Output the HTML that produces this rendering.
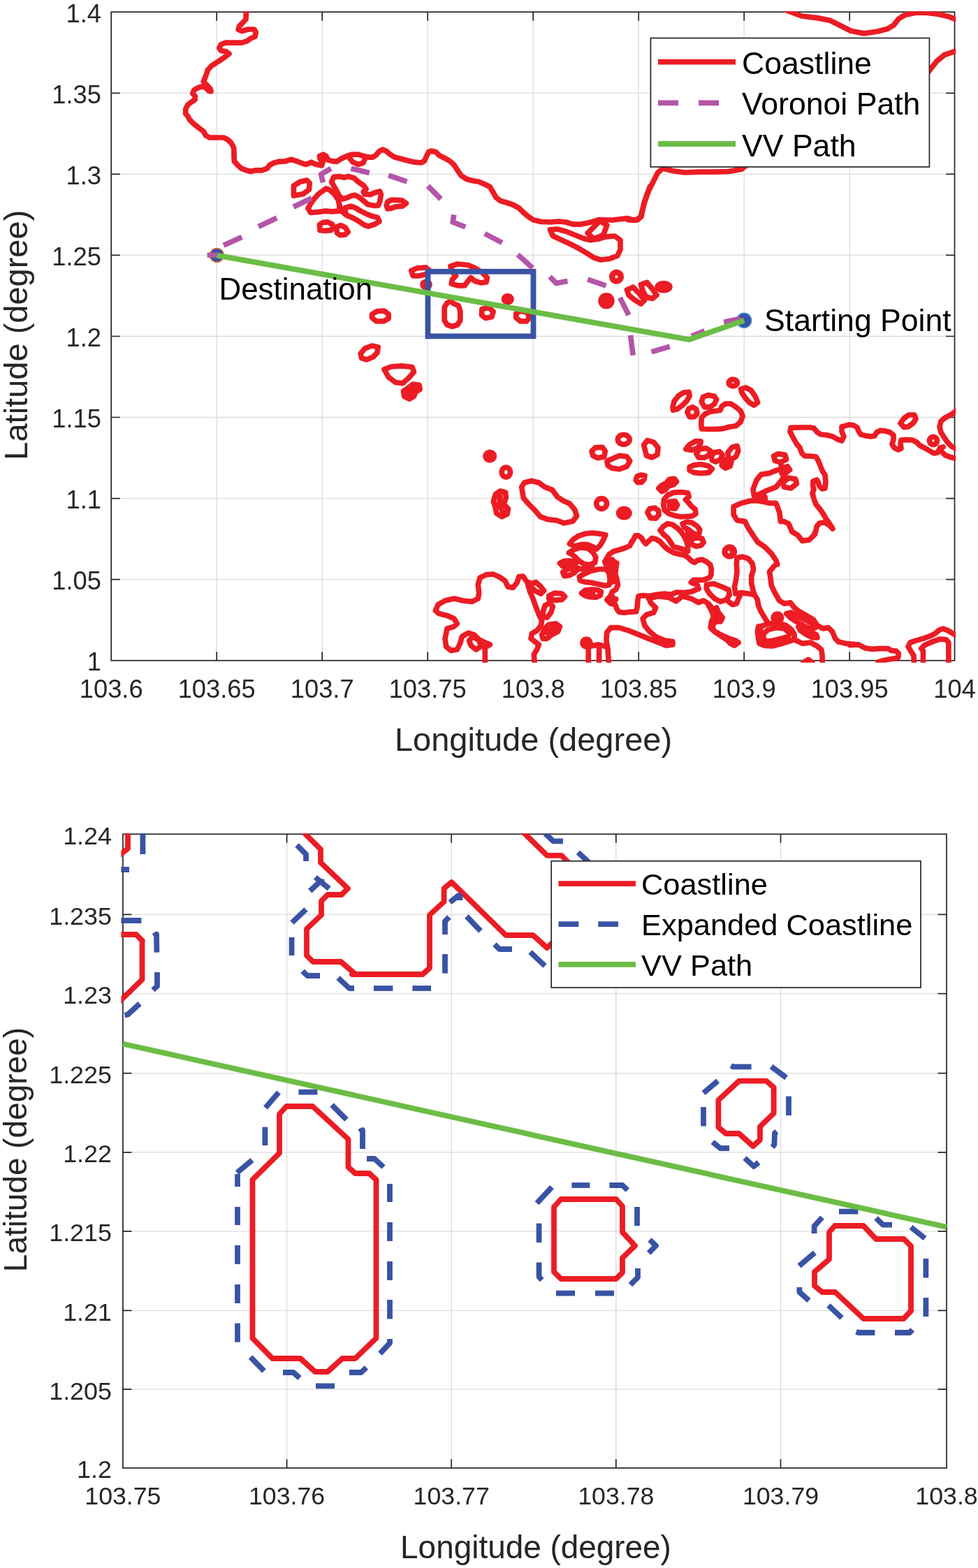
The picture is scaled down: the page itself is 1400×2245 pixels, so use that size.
<!DOCTYPE html><html><head><meta charset="utf-8"><title>Path planning figure</title>
<style>html,body{margin:0;padding:0;background:#fff}svg{display:block}text{font-family:"Liberation Sans",sans-serif;fill:#262626}</style></head><body>
<svg width="1400" height="2245" viewBox="0 0 1400 2245">
<rect width="1400" height="2245" fill="#fff"/>
<path d="M159.2 17.2V945.8M310.2 17.2V945.8M461.2 17.2V945.8M612.2 17.2V945.8M763.2 17.2V945.8M914.2 17.2V945.8M1065.2 17.2V945.8M1216.2 17.2V945.8M1366.6 17.2V945.8M159.2 945.8H1366.6M159.2 829.7H1366.6M159.2 713.6H1366.6M159.2 597.5H1366.6M159.2 481.5H1366.6M159.2 365.4H1366.6M159.2 249.3H1366.6M159.2 133.3H1366.6M159.2 17.2H1366.6" stroke="#dcdcdc" stroke-width="1.3" fill="none"/>
<clipPath id="c1"><rect x="156.8" y="16.2" width="1211.3" height="932.5"/></clipPath>
<path d="M310.2 945.8v-12.5M310.2 17.2v12.5M461.2 945.8v-12.5M461.2 17.2v12.5M612.2 945.8v-12.5M612.2 17.2v12.5M763.2 945.8v-12.5M763.2 17.2v12.5M914.2 945.8v-12.5M914.2 17.2v12.5M1065.2 945.8v-12.5M1065.2 17.2v12.5M1216.2 945.8v-12.5M1216.2 17.2v12.5M159.2 829.7h12.5M1366.6 829.7h-12.5M159.2 713.6h12.5M1366.6 713.6h-12.5M159.2 597.5h12.5M1366.6 597.5h-12.5M159.2 481.5h12.5M1366.6 481.5h-12.5M159.2 365.4h12.5M1366.6 365.4h-12.5M159.2 249.3h12.5M1366.6 249.3h-12.5M159.2 133.3h12.5M1366.6 133.3h-12.5" stroke="#262626" stroke-width="1.7" fill="none"/>
<rect x="159.2" y="17.2" width="1207.3" height="928.5" fill="none" stroke="#262626" stroke-width="1.7"/>
<g clip-path="url(#c1)" fill="none" stroke-linejoin="round" stroke-linecap="round">
<g stroke="#ec1c24" stroke-width="7.7">
<polyline points="352.5,13.8 352.0,27.5 347.5,32.5 342.5,37.5 341.2,42.5 346.2,44.5 355.0,42.0 363.8,42.0 366.2,46.2 365.0,52.5 358.8,55.0 353.8,58.8 346.2,61.2 335.0,61.2 322.5,61.2 316.2,63.8 313.8,68.8 316.2,72.5 323.8,73.8 328.0,77.0 322.5,81.2 312.5,88.0 302.5,94.5 297.5,100.0 295.5,106.2 293.0,112.5 291.2,117.0 295.5,121.2 301.2,127.5 302.0,130.8 298.8,130.0 293.8,125.0 290.0,123.8 283.8,125.5 278.0,128.8 275.8,133.8 279.2,137.5 279.2,142.5 273.8,146.2 268.8,150.0 265.8,156.2 265.5,162.5 268.8,166.2 271.2,171.2 276.2,176.2 283.8,182.5 291.2,188.0 294.5,193.8 300.0,197.0 310.0,197.0 320.0,197.0 326.2,200.0 331.2,205.0 334.5,211.2 335.0,217.5 335.0,225.0 335.5,231.2 340.0,236.2 345.5,241.2 352.5,243.8 358.8,245.5 366.2,243.8 375.0,243.8 382.5,241.2 386.2,236.2 392.5,233.0 400.0,231.2"/>
<polyline points="400.0,231.3 407.9,231.0 416.5,228.3 424.4,230.6 432.2,233.8 438.5,235.4 445.6,232.2 452.6,235.4 460.5,236.9 462.1,232.2 458.1,227.5 457.4,223.6 462.9,221.2 466.8,223.6 469.9,229.1 475.4,230.6 481.7,231.4 488.0,227.5 495.9,223.6 503.7,221.2 513.1,221.2 521.0,223.6 527.3,225.1 533.6,225.1 538.3,222.0 543.0,216.5 547.7,214.1 553.2,216.5 558.7,221.2 565.0,225.1 574.4,227.5 583.9,229.9 593.3,232.2 602.7,233.0 607.4,230.6 610.6,223.6 613.7,217.3 620.0,216.5"/>
<polyline points="500.6,226.7 505.3,232.2 513.1,235.4 519.7,233.3 521.8,229.1"/>
<polygon points="465.5,225.9 465.2,227.4 464.2,228.6 462.8,229.3 461.3,229.3 459.9,228.6 459.0,227.4 458.6,225.9 459.0,224.4 459.9,223.2 461.3,222.6 462.8,222.6 464.2,223.2 465.2,224.4"/>
<polygon points="463.6,225.9 463.5,226.6 463.0,227.1 462.4,227.4 461.7,227.4 461.1,227.1 460.7,226.6 460.5,225.9 460.7,225.3 461.1,224.7 461.7,224.4 462.4,224.4 463.0,224.7 463.5,225.3"/>
<polyline points="617.5,216.2 623.8,217.5 628.8,222.5 636.2,226.2 643.8,230.5 650.0,236.2 655.0,243.8 660.0,251.2 667.5,256.2 676.2,258.8 685.0,260.0 693.8,263.8 701.2,267.5 705.0,273.8 710.0,282.5 716.2,287.5 725.0,290.0 733.8,293.0 742.5,297.5 748.8,303.8 756.2,310.0 763.8,315.0 775.0,317.5 787.5,318.0 800.0,317.0 810.0,318.0 820.0,321.2 830.0,321.2 840.0,319.5 850.0,317.0 857.5,314.5 867.5,315.0 877.5,315.0 887.5,313.8 897.5,312.5 905.0,314.5 912.5,315.0 918.0,310.0 920.0,300.0 922.0,290.0 926.2,280.0 930.0,267.5"/>
<polygon points="787.5,328.8 797.5,328.0 810.0,331.2 822.5,336.2 835.0,341.2 845.0,343.8 855.0,342.5 867.5,338.8 880.0,338.0 888.0,343.8 888.0,357.5 883.8,366.2 872.5,370.5 860.0,372.0 850.0,368.8 840.0,362.5 827.5,355.0 815.0,348.8 802.5,343.0 791.2,337.5"/>
<polygon points="858.8,316.2 841.2,333.8 850.0,342.0 863.8,336.2 868.8,322.5"/>
<polygon points="888.5,396.2 887.9,398.9 886.2,400.9 883.8,402.1 881.2,402.1 878.8,400.9 877.1,398.9 876.5,396.2 877.1,393.6 878.8,391.6 881.2,390.4 883.8,390.4 886.2,391.6 887.9,393.6"/>
<polyline points="898.6,314.6 909.7,315.3 917.1,310.9 920.9,296.0 926.4,277.4 933.9,262.6 941.3,247.7 948.7,241.0 963.6,244.7 980.3,247.0 1002.6,246.2 1024.9,246.2 1043.4,245.5 1062.0,242.1 1073.1,232.9"/>
<polyline points="1327.6,104.7 1340.6,88.0 1351.7,78.7 1370.3,72.4"/>
<polyline points="1125.1,14.5 1147.4,23.0 1169.7,25.6 1188.3,29.3 1203.1,36.7 1218.0,44.2 1236.6,47.9 1255.1,45.3 1270.0,41.6 1279.3,36.0 1286.7,26.7 1296.0,21.1 1310.9,18.2 1325.7,18.2 1344.3,20.4 1359.1,24.1 1372.1,29.3"/>
<polygon points="420.4,266.0 429.1,260.5 439.3,258.1 443.2,262.1 442.4,271.5 433.8,277.8 420.4,280.1"/>
<polygon points="466.8,269.9 455.8,277.8 447.1,288.0 440.9,298.2 444.8,304.5 454.2,303.7 466.0,302.1 475.4,302.9 485.6,302.1 486.1,294.3 484.1,285.6 477.8,277.0 472.3,272.3"/>
<polygon points="477.8,253.4 485.6,252.6 492.7,254.2 499.0,252.6 506.9,255.0 513.1,260.5 521.0,266.0 524.1,270.7 520.2,274.6 521.8,277.8 530.4,278.6 537.5,275.4 543.8,273.9 545.4,278.6 543.8,288.0 541.4,294.3 534.4,294.3 526.5,292.7 521.0,288.0 515.5,283.3 508.4,279.4 503.7,280.1 496.6,283.3 490.4,284.9 485.6,280.1 481.7,273.1 477.8,266.0 474.6,260.5"/>
<polygon points="494.3,297.4 502.1,295.1 508.4,297.4 516.3,302.1 525.7,306.9 534.4,310.0 540.6,311.6 543.0,317.1 536.7,321.0 527.3,324.1 521.0,321.8 513.1,316.3 504.5,311.6 496.6,308.4 494.3,303.7"/>
<polyline points="486.1,294.3 488.8,302.1 494.3,306.9"/>
<polygon points="554.8,288.8 560.3,286.4 568.1,286.4 576.0,287.2 581.5,291.1 576.0,295.1 566.6,295.9 560.3,298.2 554.8,299.0 553.2,294.3"/>
<polygon points="457.4,321.8 462.1,318.6 469.1,317.9 475.4,321.0 477.0,325.7 473.9,329.6 466.0,330.4 458.1,329.6"/>
<polygon points="481.7,324.9 488.0,322.6 494.3,325.7 498.2,332.0 494.3,335.9 487.2,336.7 482.5,333.6"/>
<polygon points="588.8,387.5 597.5,383.8 610.0,383.0 615.0,387.5 610.0,392.5 600.0,395.0 591.2,395.0"/>
<polygon points="615.0,407.5 614.5,409.3 613.1,410.8 611.1,411.6 608.9,411.6 606.9,410.8 605.5,409.3 605.0,407.5 605.5,405.7 606.9,404.2 608.9,403.4 611.1,403.4 613.1,404.2 614.5,405.7"/>
<polygon points="612.2,407.5 612.0,408.3 611.4,409.0 610.5,409.4 609.5,409.4 608.6,409.0 608.0,408.3 607.8,407.5 608.0,406.7 608.6,406.0 609.5,405.6 610.5,405.6 611.4,406.0 612.0,406.7"/>
<polygon points="645.0,381.2 655.0,378.0 670.0,379.5 680.0,383.8 690.0,390.0 697.5,397.5 696.2,403.8 688.8,405.0 680.0,402.5 673.8,397.5 668.8,403.8 665.0,408.8 655.0,408.8 646.2,406.2 647.5,400.0 652.5,395.0 647.5,388.8"/>
<polygon points="645.0,431.2 650.0,435.0 656.2,437.5 658.8,445.0 658.8,458.8 655.0,465.0 647.5,467.5 640.0,465.0 636.2,458.8 636.2,440.0 640.0,433.8"/>
<polygon points="690.0,442.5 700.0,440.5 706.2,446.2 703.8,453.8 695.0,455.5 689.5,451.2"/>
<polygon points="732.0,428.2 731.5,430.2 730.0,431.8 727.9,432.6 725.6,432.6 723.5,431.8 722.0,430.2 721.5,428.2 722.0,426.3 723.5,424.7 725.6,423.9 727.9,423.9 730.0,424.7 731.5,426.3"/>
<polygon points="729.1,428.2 728.9,429.1 728.2,429.8 727.3,430.2 726.2,430.2 725.3,429.8 724.6,429.1 724.4,428.2 724.6,427.4 725.3,426.7 726.2,426.3 727.3,426.3 728.2,426.7 728.9,427.4"/>
<polygon points="738.8,448.8 745.0,445.0 755.0,447.5 757.5,455.0 753.8,460.0 745.0,460.0 738.8,455.0"/>
<polygon points="532.5,450.0 540.0,445.5 550.0,445.0 556.2,450.0 556.2,456.2 548.8,460.0 538.8,460.0 532.5,455.0"/>
<polygon points="516.2,506.2 522.5,498.8 532.5,495.0 541.2,497.0 540.0,505.0 533.8,511.2 525.0,515.0 517.5,512.5"/>
<polygon points="550.0,528.8 560.0,525.0 575.0,523.8 590.0,525.5 592.5,532.5 585.0,541.2 576.2,548.8 566.2,547.5 556.2,540.0"/>
<polygon points="585.0,555.0 591.2,550.0 600.0,551.2 601.2,557.5 595.0,561.2 592.5,567.5 586.2,571.2 578.8,567.5 577.5,560.0"/>
<polyline points="585.0,560.0 593.8,556.2"/>
<polyline points="583.8,563.8 590.0,558.8 596.2,555.0"/>
<polyline points="587.5,566.2 590.0,562.5"/>
<polygon points="889.2,396.2 888.6,399.2 886.7,401.5 884.0,402.8 881.0,402.8 878.3,401.5 876.4,399.2 875.8,396.2 876.4,393.3 878.3,391.0 881.0,389.7 884.0,389.7 886.7,391.0 888.6,393.3"/>
<polygon points="876.0,430.8 875.2,434.2 873.0,437.0 869.8,438.5 866.2,438.5 863.0,437.0 860.8,434.2 860.0,430.8 860.8,427.3 863.0,424.5 866.2,423.0 869.8,423.0 873.0,424.5 875.2,427.3"/>
<polygon points="871.6,430.8 871.2,432.3 870.2,433.6 868.8,434.3 867.2,434.3 865.8,433.6 864.8,432.3 864.4,430.8 864.8,429.2 865.8,427.9 867.2,427.2 868.8,427.2 870.2,427.9 871.2,429.2"/>
<polygon points="897.5,415.0 906.2,411.2 915.0,420.0 922.5,430.0 917.5,435.0 907.5,428.8 900.0,422.5"/>
<polygon points="917.5,407.5 926.2,404.5 933.8,413.8 940.0,422.5 933.8,427.5 925.0,425.0 920.0,416.2"/>
<polygon points="959.0,410.8 958.1,412.9 955.6,414.7 952.0,415.6 948.0,415.6 944.4,414.7 941.9,412.9 941.0,410.8 941.9,408.6 944.4,406.8 948.0,405.9 952.0,405.9 955.6,406.8 958.1,408.6"/>
<polygon points="954.0,410.8 953.6,411.7 952.5,412.5 950.9,412.9 949.1,412.9 947.5,412.5 946.4,411.7 946.0,410.8 946.4,409.8 947.5,409.0 949.1,408.6 950.9,408.6 952.5,409.0 953.6,409.8"/>
<polygon points="707.4,653.2 706.8,655.7 705.0,657.6 702.6,658.7 699.8,658.7 697.4,657.6 695.6,655.7 695.0,653.2 695.6,650.7 697.4,648.8 699.8,647.7 702.6,647.7 705.0,648.8 706.8,650.7"/>
<polygon points="704.0,653.2 703.7,654.3 702.9,655.2 701.8,655.7 700.6,655.7 699.5,655.2 698.7,654.3 698.4,653.2 698.7,652.1 699.5,651.2 700.6,650.7 701.8,650.7 702.9,651.2 703.7,652.1"/>
<polygon points="730.5,676.1 729.9,679.1 728.2,681.5 725.7,682.9 723.0,682.9 720.5,681.5 718.8,679.1 718.2,676.1 718.8,673.1 720.5,670.7 723.0,669.3 725.7,669.3 728.2,670.7 729.9,673.1"/>
<polygon points="706.3,718.0 709.4,707.7 715.9,703.1 723.6,705.1 724.3,712.9 721.0,721.9 727.4,728.3 726.1,736.0 718.4,739.9 710.7,734.7 708.9,725.7"/>
<polyline points="715.9,710.3 714.6,723.1 719.7,732.1"/>
<polygon points="746.7,697.4 750.6,691.0 760.9,688.4 771.1,691.0 780.1,697.4 790.4,701.3 798.1,711.6 807.1,717.5 814.9,720.6 822.6,729.6 825.7,738.6 820.0,746.3 807.1,748.9 796.9,745.0 784.0,743.7 773.7,739.9 766.0,730.9 757.0,721.9 749.3,712.9"/>
<polygon points="847.0,646.0 852.1,640.9 862.4,640.3 866.3,646.0 865.0,653.7 856.0,655.8 848.8,652.4"/>
<polygon points="901.3,629.3 900.4,632.3 898.1,634.7 894.7,636.1 890.9,636.1 887.5,634.7 885.1,632.3 884.3,629.3 885.1,626.3 887.5,623.9 890.9,622.5 894.7,622.5 898.1,623.9 900.4,626.3"/>
<polygon points="868.9,660.1 877.9,656.3 886.9,652.4 897.1,653.7 901.8,660.1 897.1,667.9 886.9,671.7 876.6,670.4 870.1,666.6"/>
<polygon points="921.6,637.0 926.7,630.6 935.7,633.1 942.1,640.9 940.9,651.1 933.1,655.0 925.4,652.4"/>
<polygon points="868.6,721.1 867.9,724.3 865.8,726.9 862.8,728.4 859.5,728.4 856.5,726.9 854.4,724.3 853.7,721.1 854.4,717.9 856.5,715.3 859.5,713.8 862.8,713.8 865.8,715.3 867.9,717.9"/>
<polygon points="901.0,734.7 900.2,737.4 898.1,739.5 895.0,740.7 891.6,740.7 888.5,739.5 886.3,737.4 885.6,734.7 886.3,732.0 888.5,729.9 891.6,728.7 895.0,728.7 898.1,729.9 900.2,732.0"/>
<polygon points="896.8,734.7 896.4,735.9 895.5,736.9 894.1,737.4 892.5,737.4 891.1,736.9 890.2,735.9 889.8,734.7 890.2,733.5 891.1,732.5 892.5,732.0 894.1,732.0 895.5,732.5 896.4,733.5"/>
<polygon points="963.0,582.9 965.2,574.3 971.1,566.8 978.6,562.0 986.1,561.4 987.1,566.8 982.9,574.3 976.4,580.7 968.9,586.1 963.6,587.2"/>
<polygon points="983.9,590.4 986.1,585.0 991.4,582.9 996.8,586.1 997.9,592.5 993.6,596.8 987.1,596.8"/>
<polygon points="1004.3,575.4 1006.4,568.4 1013.9,565.7 1022.5,567.3 1025.7,572.2 1022.5,578.6 1016.1,582.9 1008.6,582.9"/>
<polygon points="1004.3,597.9 1009.6,592.5 1017.1,589.3 1025.7,588.2 1031.1,587.2 1033.2,581.8 1038.6,578.0 1046.1,578.0 1053.6,582.9 1060.0,588.2 1063.2,595.7 1060.0,604.3 1053.6,609.7 1043.9,611.3 1034.3,613.9 1023.6,614.5 1012.9,614.5 1004.3,613.9 1003.8,606.4"/>
<polygon points="1055.5,548.0 1054.9,550.1 1053.2,551.7 1050.7,552.6 1047.9,552.6 1045.4,551.7 1043.7,550.1 1043.1,548.0 1043.7,546.0 1045.4,544.4 1047.9,543.4 1050.7,543.4 1053.2,544.4 1054.9,546.0"/>
<polygon points="1060.5,557.1 1067.5,555.0 1075.0,558.8 1081.4,567.9 1084.6,576.4 1079.3,580.2 1072.9,576.4 1066.4,568.9 1062.1,562.5"/>
<polygon points="981.8,642.9 987.1,636.5 995.7,631.6 1003.2,632.2 1002.1,637.5 997.9,641.8 989.3,644.5"/>
<polygon points="996.8,649.3 1002.1,642.9 1010.7,641.8 1017.1,645.6 1015.0,651.5 1008.6,655.2 1000.0,655.2"/>
<polygon points="1018.2,653.6 1022.5,647.7 1030.0,646.6 1034.3,651.5 1031.1,657.9 1024.6,661.1 1019.3,659.0"/>
<polygon points="1041.8,648.2 1048.2,640.2 1055.2,638.6 1056.8,645.6 1053.6,653.6 1047.1,657.9 1042.9,654.7"/>
<polygon points="1034.3,659.0 1042.9,656.8 1047.1,661.1 1045.0,667.5 1038.6,670.2 1033.2,666.5"/>
<polyline points="1036.4,663.2 1042.9,662.2"/>
<polygon points="987.1,668.6 993.6,665.9 1003.2,664.8 1013.9,667.0 1019.3,671.3 1015.0,676.6 1004.3,677.7 993.6,676.6 987.1,673.4"/>
<polygon points="1051.4,789.9 1050.7,792.9 1048.8,795.3 1046.0,796.7 1043.0,796.7 1040.2,795.3 1038.3,792.9 1037.6,789.9 1038.3,786.9 1040.2,784.5 1043.0,783.2 1046.0,783.2 1048.8,784.5 1050.7,786.9"/>
<polygon points="1078.0,700.6 1082.9,687.5 1089.5,679.3 1101.0,677.6 1110.9,673.7 1119.1,671.1 1127.3,667.8 1130.6,672.7 1124.0,677.6 1119.1,687.5 1110.9,697.3 1097.7,702.3 1087.9,707.2 1079.6,710.5"/>
<polygon points="1095.4,713.1 1094.8,715.1 1093.2,716.7 1090.8,717.6 1088.2,717.6 1085.8,716.7 1084.2,715.1 1083.6,713.1 1084.2,711.1 1085.8,709.5 1088.2,708.6 1090.8,708.6 1093.2,709.5 1094.8,711.1"/>
<polygon points="1092.2,713.1 1091.9,714.0 1091.2,714.7 1090.1,715.1 1088.9,715.1 1087.8,714.7 1087.1,714.0 1086.8,713.1 1087.1,712.2 1087.8,711.5 1088.9,711.1 1090.1,711.1 1091.2,711.5 1091.9,712.2"/>
<polygon points="1107.6,653.0 1114.1,649.7 1124.0,651.4 1125.6,657.9 1117.4,661.9 1109.2,659.6"/>
<polyline points="1117.4,661.9 1119.1,670.4"/>
<polygon points="1120.7,690.8 1128.9,684.2 1138.8,685.8 1140.4,692.4 1132.2,699.0 1122.4,697.3"/>
<polyline points="1119.1,677.6 1127.3,685.8"/>
<polyline points="1367.0,656.0 1360.0,654.4 1353.0,651.6 1348.0,647.0 1346.0,641.0 1342.0,648.0 1337.0,649.0 1330.0,645.0 1323.0,641.0 1317.0,638.0 1312.0,633.0 1306.0,630.0 1298.0,629.6 1290.0,630.0 1289.0,636.0 1290.0,642.0 1286.0,644.0 1280.0,641.0 1277.0,636.0 1279.0,629.0 1279.0,623.0 1274.0,619.0 1267.0,617.0 1260.0,616.4 1255.0,619.0 1252.0,624.0 1246.0,625.0 1238.0,623.6 1232.0,622.0 1229.0,617.0 1227.0,612.0 1222.0,609.0 1216.0,608.0 1210.0,609.6 1205.0,611.0 1205.0,618.0 1208.0,625.0 1205.0,631.0 1199.0,629.0 1192.0,625.0 1184.0,623.0 1175.0,622.0 1170.0,619.0 1165.0,613.0 1160.0,612.0 1146.0,612.0 1132.0,612.4 1131.0,618.0 1135.0,626.0 1140.0,635.0 1145.0,641.0 1148.0,649.0 1152.0,653.0 1160.0,653.0 1168.0,654.0 1171.0,659.0 1174.0,666.0 1177.0,674.0 1181.0,680.0 1182.0,690.0 1181.0,699.0 1177.0,700.0 1173.0,696.0 1171.0,690.0 1169.0,687.0 1164.0,689.0 1163.6,695.0 1165.0,701.0 1163.0,706.0 1165.0,714.0 1168.0,722.0 1173.0,728.0 1178.0,735.0 1182.0,742.0 1187.0,749.0 1192.0,757.0 1187.0,752.0 1180.0,748.0 1173.0,749.0 1169.0,754.0 1168.0,760.0 1166.0,764.0"/>
<polygon points="1289.0,606.0 1294.0,599.0 1301.0,594.0 1309.0,594.0 1311.0,600.0 1307.0,606.0 1300.0,611.0 1294.0,611.6"/>
<polygon points="1341.6,631.0 1341.0,633.4 1339.5,635.4 1337.2,636.5 1334.8,636.5 1332.5,635.4 1331.0,633.4 1330.4,631.0 1331.0,628.6 1332.5,626.6 1334.8,625.5 1337.2,625.5 1339.5,626.6 1341.0,628.6"/>
<polyline points="1369.0,588.0 1361.0,594.0 1353.0,598.0 1347.0,603.0 1345.0,611.0 1347.0,619.0 1352.0,627.0 1357.0,634.0 1362.0,639.0 1369.0,643.0"/>
<polyline points="1346.0,641.0 1350.0,640.0"/>
<polyline points="1166.7,764.7 1158.5,772.9 1148.6,774.5 1142.1,766.3 1133.9,761.4 1128.9,749.9 1122.4,746.6 1117.4,746.6 1115.8,733.5 1110.9,720.3 1101.0,720.3 1087.9,717.0 1074.7,717.0 1061.6,720.3 1050.1,725.2 1050.1,736.7 1055.0,744.9 1066.5,746.6 1071.4,756.4 1078.0,766.3 1084.6,776.1 1094.4,782.7 1104.3,792.6 1110.9,802.4 1112.5,808.0"/>
<polyline points="694.3,948.6 694.3,927.1 701.4,922.9 694.3,920.0 685.7,915.7 678.6,908.6 670.0,906.3 661.4,911.4 658.6,921.4 654.3,930.0 645.7,931.4 638.6,925.7 637.1,914.3 640.0,900.0 650.0,897.1 654.3,892.9 650.0,885.7 640.0,881.4 628.6,878.6 623.4,874.3 627.1,865.7 637.1,860.0 650.0,857.1 662.9,860.0 675.7,861.4 684.3,857.1 685.7,848.6 684.3,837.1 687.1,827.1 695.7,822.9 705.7,822.0 714.3,825.7 722.9,831.4 727.1,840.0 734.3,841.4 740.0,834.3 742.9,825.7 748.6,825.1 754.3,832.9 760.0,835.7 767.1,833.7 772.9,838.6 778.6,845.7 774.3,850.0 765.7,845.7 760.0,840.0 755.7,837.1 758.6,847.1 762.9,857.1 767.1,868.6 771.4,880.0 775.7,888.6 774.3,895.7 768.6,902.9 761.4,907.1 760.0,914.3 765.7,918.6 771.4,922.9 768.6,930.0 764.3,937.1 765.1,948.6"/>
<polygon points="671.4,917.1 677.1,911.4 685.7,917.1 688.6,925.7 681.4,930.0 674.3,924.3"/>
<polygon points="785.7,852.9 794.3,849.1 804.3,850.0 808.6,854.3 804.3,858.6 794.3,859.4 785.7,857.1"/>
<polygon points="777.1,877.1 780.0,867.1 787.1,862.9 791.4,868.6 788.6,877.1 782.9,884.3 777.1,882.9"/>
<polygon points="775.7,908.6 780.0,900.0 785.7,894.3 795.7,892.9 801.4,897.1 798.6,904.3 790.0,908.6 782.9,914.3 777.1,914.3"/>
<polyline points="782.9,905.7 792.9,898.6"/>
<polygon points="815.4,778.6 820.7,772.2 828.2,767.3 837.9,764.1 847.5,763.0 857.1,764.1 866.8,765.7 863.6,773.2 859.3,780.7 853.9,786.1 848.6,782.9 841.1,779.7 832.5,779.7 822.9,781.8"/>
<polygon points="814.3,791.4 820.7,787.2 830.4,783.9 841.1,785.0 848.6,790.4 852.9,797.9 851.8,805.4 844.3,808.6 835.7,807.5 829.3,803.2 823.9,797.9 818.6,793.6"/>
<polygon points="801.4,806.4 807.9,803.2 817.5,803.2 825.0,805.4 822.9,809.7 814.3,810.7 805.7,810.7"/>
<polyline points="805.7,807.0 820.7,807.0"/>
<polygon points="805.7,819.3 812.1,815.0 820.7,812.9 828.2,813.9 822.9,819.3 815.4,823.6 807.9,824.7"/>
<polygon points="829.3,825.7 836.8,821.4 846.4,817.2 857.1,815.0 867.9,815.0 872.1,821.4 873.2,830.0 872.1,837.5 865.7,838.6 857.1,836.5 846.4,834.3 836.8,833.2 830.4,831.1"/>
<polyline points="828.2,813.9 833.6,815.0 840.0,813.9 847.5,811.8"/>
<polygon points="832.5,849.3 837.9,845.0 846.4,844.0 855.0,844.5 860.4,847.2 859.3,852.5 852.9,855.2 844.3,854.7 836.8,852.5"/>
<polyline points="836.8,849.3 848.6,849.3"/>
<polyline points="1000.0,842.9 990.0,847.1 980.0,848.6 968.6,848.0 960.0,851.4 951.4,850.0 940.0,851.4 930.0,853.4"/>
<polyline points="930.0,853.6 920.4,852.5 913.9,853.6 912.9,860.0 912.3,868.6 910.7,875.6 902.1,876.1 893.6,877.2 886.1,876.1 882.9,871.8 880.7,865.4 874.3,864.3 868.9,859.0 874.3,852.5 876.4,847.2 881.8,844.0 884.5,837.5 882.9,828.9 880.7,821.4 881.8,812.9 882.9,806.4 874.3,808.6 867.9,809.7 865.7,804.3 868.9,798.9 872.1,793.6 878.6,789.3 886.1,787.2 893.6,785.0 901.1,781.8 904.8,775.4"/>
<polyline points="874.3,813.9 876.4,823.6 877.0,833.2"/>
<polyline points="870.0,804.3 879.6,804.3"/>
<polyline points="871.1,801.6 876.4,801.1"/>
<polyline points="873.2,859.0 881.8,857.9"/>
<polyline points="876.4,853.6 879.6,861.1"/>
<polyline points="928.6,854.3 931.4,862.9 938.6,870.0 935.7,877.1 925.7,880.0 920.0,885.7 922.9,895.7 930.0,904.3 938.6,911.4 951.4,917.1 962.9,918.6 962.9,922.9 954.3,924.3 942.9,920.0 928.6,914.3 914.3,908.6 900.0,902.9 885.7,898.6 874.3,898.6 868.6,905.7 868.0,917.1 870.0,928.6 871.4,948.6"/>
<polygon points="844.9,920.6 844.3,922.9 842.8,924.8 840.6,925.9 838.2,925.9 836.0,924.8 834.5,922.9 834.0,920.6 834.5,918.2 836.0,916.3 838.2,915.3 840.6,915.3 842.8,916.3 844.3,918.2"/>
<polygon points="841.9,920.6 841.6,921.6 841.0,922.5 840.0,923.0 838.9,923.0 837.9,922.5 837.2,921.6 837.0,920.6 837.2,919.5 837.9,918.7 838.9,918.2 840.0,918.2 841.0,918.7 841.6,919.5"/>
<polyline points="842.3,920.6 842.3,950.0"/>
<polyline points="845.1,925.1 857.1,922.9 867.1,925.7"/>
<polyline points="857.7,924.3 857.7,950.0"/>
<polygon points="910.2,687.5 911.8,682.1 917.1,680.0 923.0,681.1 922.0,686.4 918.2,690.7 912.9,690.7"/>
<polygon points="942.9,699.3 947.1,695.0 953.6,691.8 957.9,686.4 965.4,685.4 968.6,689.6 964.3,693.9 956.8,696.1 952.5,701.4 947.1,703.6"/>
<polyline points="947.1,699.3 963.2,689.6"/>
<polygon points="950.4,715.4 955.7,708.9 964.3,705.2 975.0,704.6 984.6,705.7 986.2,711.1 981.4,715.4 985.7,719.7 990.0,725.0 995.4,729.3 995.9,735.7 991.1,738.9 982.5,739.5 975.0,740.0 966.4,738.4 957.9,735.7 951.4,730.4 949.8,722.9"/>
<polygon points="957.9,718.6 966.4,717.5 969.6,722.9 966.4,728.2 958.9,727.2"/>
<polyline points="961.1,720.7 965.4,725.0"/>
<polygon points="926.8,733.6 930.0,728.2 937.5,727.2 942.9,731.4 942.9,737.9 938.6,742.2 931.1,741.6"/>
<polygon points="945.0,759.3 949.3,753.9 955.7,749.7 963.2,751.3 969.6,756.1 975.0,761.4 979.3,767.9 982.5,774.3 984.6,781.8 984.6,789.3 979.3,787.2 972.9,785.0 964.3,782.9 960.0,776.5 955.7,770.0 950.4,765.7"/>
<polygon points="977.1,749.7 983.6,747.0 991.1,748.6 997.5,752.9 1001.8,758.2 1000.7,764.7 996.4,765.7 991.1,762.5 985.7,758.2 979.3,755.0"/>
<polygon points="984.6,761.4 988.9,765.7 993.2,771.1 998.6,770.0 1005.0,771.1 1007.1,776.5 1003.9,780.7 996.4,782.3 991.1,779.7 986.8,772.2"/>
<polyline points="904.3,775.7 906.4,773.2 909.6,766.8 913.9,766.8 918.2,770.0 921.4,775.4 924.6,778.6 928.9,774.3 933.2,770.6 938.6,771.6 945.0,775.4 950.4,781.8 956.8,787.2 964.3,791.5 972.9,793.6 979.3,794.7 984.6,797.9 990.0,803.2 994.3,805.4 998.6,802.2 1005.0,801.1 1011.4,804.3 1016.8,808.6 1018.4,815.0 1017.9,822.5"/>
<polygon points="1048.9,790.4 1048.3,792.9 1046.7,795.0 1044.3,796.1 1041.7,796.1 1039.4,795.0 1037.7,792.9 1037.1,790.4 1037.7,787.8 1039.4,785.8 1041.7,784.6 1044.3,784.6 1046.7,785.8 1048.3,787.8"/>
<polyline points="1017.9,822.5 1016.1,826.8 1007.1,830.4 992.9,830.4 989.3,833.9 998.2,837.5 1000.0,842.9"/>
<polyline points="928.6,857.1 942.9,853.6 957.1,855.4 967.9,860.7 976.8,853.6 989.3,857.1 1000.0,862.5"/>
<polyline points="1200.0,918.6 1210.7,921.4 1228.6,923.2"/>
<polyline points="1217.1,923.6 1228.6,922.9 1238.6,927.9 1247.1,929.3 1260.0,928.6 1271.4,928.6 1275.7,931.4 1282.9,932.1 1286.4,935.7 1285.7,941.4 1280.0,942.9 1271.4,944.3 1264.3,945.7 1257.1,947.9"/>
<polygon points="1055.0,798.6 1062.9,797.1 1071.4,800.0 1077.1,807.1 1078.6,815.7 1075.7,824.3 1075.7,835.7 1078.6,847.1 1080.0,851.4 1071.4,850.0 1061.4,848.6 1052.9,850.0 1051.4,840.0 1053.6,830.0 1055.0,818.6 1054.3,808.6"/>
<polygon points="1011.4,837.1 1021.4,835.7 1032.9,840.0 1042.9,844.3 1044.3,851.4 1040.0,858.6 1031.4,861.4 1022.9,857.1 1015.7,850.0 1011.4,842.9"/>
<polyline points="1000.0,862.4 1007.1,860.0 1014.3,864.3 1020.0,871.4 1023.6,878.6 1025.7,884.3"/>
<polyline points="1014.3,867.1 1018.6,874.3 1021.4,882.9 1018.6,890.0 1017.1,898.6 1022.9,904.3 1031.4,910.0 1040.0,915.7 1045.7,921.4 1051.4,924.3 1057.1,920.0 1052.9,917.1 1044.3,914.3 1037.1,911.4 1028.6,907.1 1021.4,902.9 1020.0,895.7 1024.3,890.0 1031.4,890.0 1034.3,884.3 1028.6,877.1 1025.7,870.0"/>
<polyline points="1042.9,861.4 1048.6,865.7 1054.3,864.3 1057.1,857.1 1060.0,851.4"/>
<polyline points="1080.0,851.4 1084.3,858.6 1085.7,867.1 1088.6,874.3 1092.9,881.4 1097.1,888.6 1100.0,892.9 1092.9,895.7 1085.7,897.1 1084.3,904.3 1085.7,914.3 1087.1,921.4 1094.3,924.3 1105.7,925.0 1117.1,922.1 1128.6,918.6 1137.1,915.7 1137.1,908.6 1132.9,901.4 1125.7,895.7 1117.1,892.9 1108.6,892.9 1100.0,892.9"/>
<polygon points="1092.9,907.1 1100.0,901.4 1111.4,898.6 1122.9,900.0 1130.0,905.7 1128.6,911.4 1118.6,914.3 1107.1,917.1 1097.1,918.6 1092.9,914.3"/>
<polyline points="1088.6,901.4 1089.3,918.6"/>
<polygon points="1118.6,884.6 1118.0,887.1 1116.4,889.0 1114.1,890.1 1111.6,890.1 1109.3,889.0 1107.7,887.1 1107.1,884.6 1107.7,882.1 1109.3,880.1 1111.6,879.0 1114.1,879.0 1116.4,880.1 1118.0,882.1"/>
<polygon points="1115.4,884.6 1115.2,885.7 1114.5,886.6 1113.4,887.1 1112.3,887.1 1111.3,886.6 1110.5,885.7 1110.3,884.6 1110.5,883.5 1111.3,882.6 1112.3,882.1 1113.4,882.1 1114.5,882.6 1115.2,883.5"/>
<polyline points="1137.1,915.7 1148.6,921.4 1160.0,920.0 1168.6,924.3 1175.7,930.0 1177.1,938.6 1177.1,948.6"/>
<polyline points="1112.4,807.1 1108.6,810.0 1101.4,818.6 1102.9,827.1 1104.3,838.6 1110.0,850.0 1115.7,860.0 1122.9,864.3 1131.4,862.9 1137.1,870.0 1144.3,875.7 1154.3,881.4 1164.3,887.1 1170.0,895.7 1178.6,900.0 1185.7,898.6 1191.4,904.3 1195.7,914.3 1200.0,918.6"/>
<polygon points="1125.7,878.6 1132.9,877.1 1142.9,882.9 1154.3,888.6 1162.9,892.9 1167.1,898.6 1160.0,900.0 1150.0,895.7 1140.0,890.0 1131.4,884.3"/>
<polygon points="1142.9,897.1 1151.4,898.6 1160.0,904.3 1168.6,908.6 1170.0,912.9 1162.9,912.9 1154.3,908.6 1145.7,902.9"/>
<polyline points="1308.6,950.0 1307.9,938.6 1304.3,932.9 1300.0,925.7 1302.9,920.0 1311.4,917.1 1321.4,914.3 1331.4,910.7 1338.6,907.1 1344.3,902.1 1350.0,900.0 1357.1,902.9 1362.9,906.4 1369.3,910.0"/>
<polyline points="1321.4,950.0 1321.4,931.4 1318.6,928.6 1322.9,924.3 1328.6,921.4 1337.1,917.9 1345.7,915.0 1354.3,915.7 1357.9,920.0 1357.9,932.9 1357.9,950.0"/>
<polyline points="1150.0,948.6 1157.1,944.3 1162.9,948.6"/>
</g>
<rect x="612.5" y="388.8" width="151" height="92.6" stroke="#3953a4" stroke-width="7.8" stroke-linejoin="miter" fill="none"/>
<circle cx="310.4" cy="365.4" r="10" fill="#3953a4" stroke="#f26522" stroke-width="1.4"/>
<circle cx="1065.1" cy="458.8" r="10.6" fill="#3953a4" stroke="#4a90d9" stroke-width="1.4"/>
<g stroke="#b455a8" stroke-width="7.6" stroke-linecap="butt" stroke-linejoin="round">
<polyline points="296.5,365.5 310.8,365.0"/>
<polyline points="320.0,351.2 346.2,339.5"/>
<polyline points="370.0,324.5 396.2,312.0"/>
<polyline points="420.0,296.2 446.2,283.8"/>
<polyline points="462.5,261.2 459.5,249.5 473.8,241.2"/>
<polyline points="502.5,241.2 528.8,247.5"/>
<polyline points="556.2,251.2 582.5,260.0"/>
<polyline points="612.5,266.2 631.2,285.0"/>
<polyline points="650.0,307.5 648.0,318.0 666.2,325.0"/>
<polyline points="693.8,334.5 718.8,347.5"/>
<polyline points="741.2,364.5 762.5,383.8"/>
<polyline points="787.0,396.2 796.2,405.5 812.5,402.5"/>
<polyline points="841.2,400.0 867.5,409.2"/>
<polyline points="887.5,426.2 900.0,451.2"/>
<polyline points="902.5,480.0 906.2,508.8"/>
<polyline points="932.5,503.8 958.8,496.2"/>
<polyline points="990.0,481.2 1008.8,473.8"/>
<polyline points="1036.2,461.2 1060.0,456.2"/>
</g>
<polyline points="310.6,365.6 986.2,486.2 1065.1,458.8" stroke="#6abd45" stroke-width="7.8" stroke-linejoin="round" stroke-linecap="butt"/>
</g>
<text x="159.2" y="998.8" font-size="36.3" text-anchor="middle">103.6</text>
<text x="310.2" y="998.8" font-size="36.3" text-anchor="middle">103.65</text>
<text x="461.2" y="998.8" font-size="36.3" text-anchor="middle">103.7</text>
<text x="612.2" y="998.8" font-size="36.3" text-anchor="middle">103.75</text>
<text x="763.2" y="998.8" font-size="36.3" text-anchor="middle">103.8</text>
<text x="914.2" y="998.8" font-size="36.3" text-anchor="middle">103.85</text>
<text x="1065.2" y="998.8" font-size="36.3" text-anchor="middle">103.9</text>
<text x="1216.2" y="998.8" font-size="36.3" text-anchor="middle">103.95</text>
<text x="1366.6" y="998.8" font-size="36.3" text-anchor="middle">104</text>
<text x="145" y="960.1" font-size="36.3" text-anchor="end">1</text>
<text x="145" y="844.1" font-size="36.3" text-anchor="end">1.05</text>
<text x="145" y="728.0" font-size="36.3" text-anchor="end">1.1</text>
<text x="145" y="611.9" font-size="36.3" text-anchor="end">1.15</text>
<text x="145" y="495.9" font-size="36.3" text-anchor="end">1.2</text>
<text x="145" y="379.8" font-size="36.3" text-anchor="end">1.25</text>
<text x="145" y="263.7" font-size="36.3" text-anchor="end">1.3</text>
<text x="145" y="147.7" font-size="36.3" text-anchor="end">1.35</text>
<text x="145" y="31.6" font-size="36.3" text-anchor="end">1.4</text>
<text x="763.5" y="1075" font-size="47" text-anchor="middle">Longitude (degree)</text>
<text transform="translate(38.8,479.7) rotate(-90)" font-size="47" text-anchor="middle">Latitude (degree)</text>
<rect x="931.4" y="54.5" width="399" height="184.5" fill="#fff" stroke="#262626" stroke-width="1.7"/>
<path d="M942 88.6H1053" stroke="#ec1c24" stroke-width="7.8" fill="none" />
<path d="M942 147.3H1053" stroke="#b455a8" stroke-width="7.8" fill="none" stroke-dasharray="29 29"/>
<path d="M942 206.0H1053" stroke="#6abd45" stroke-width="7.8" fill="none" />
<text x="1062" y="105.7" font-size="44.6" style="fill:#000">Coastline</text>
<text x="1062" y="163.9" font-size="44.6" style="fill:#000">Voronoi Path</text>
<text x="1062" y="223.9" font-size="44.6" style="fill:#000">VV Path</text>
<text x="313.5" y="428.8" font-size="43.9" style="fill:#000">Destination</text>
<text x="1094" y="474" font-size="44.6" style="fill:#000">Starting Point</text>
<path d="M175.9 1194.3V2101.8M410.6 1194.3V2101.8M646.2 1194.3V2101.8M881.8 1194.3V2101.8M1117.5 1194.3V2101.8M1355.0 1194.3V2101.8M175.9 2101.8H1355.0M175.9 1989.1H1355.0M175.9 1876.4H1355.0M175.9 1762.8H1355.0M175.9 1649.8H1355.0M175.9 1536.6H1355.0M175.9 1422.6H1355.0M175.9 1309.3H1355.0M175.9 1194.3H1355.0" stroke="#dcdcdc" stroke-width="1.3" fill="none"/>
<clipPath id="c2"><rect x="173.4" y="1193.3" width="1183.1" height="911.5"/></clipPath>
<path d="M410.6 2101.8v-12.5M410.6 1194.3v12.5M646.2 2101.8v-12.5M646.2 1194.3v12.5M881.8 2101.8v-12.5M881.8 1194.3v12.5M1117.5 2101.8v-12.5M1117.5 1194.3v12.5M175.9 1989.1h12.5M1355.0 1989.1h-12.5M175.9 1876.4h12.5M1355.0 1876.4h-12.5M175.9 1762.8h12.5M1355.0 1762.8h-12.5M175.9 1649.8h12.5M1355.0 1649.8h-12.5M175.9 1536.6h12.5M1355.0 1536.6h-12.5M175.9 1422.6h12.5M1355.0 1422.6h-12.5M175.9 1309.3h12.5M1355.0 1309.3h-12.5" stroke="#262626" stroke-width="1.7" fill="none"/>
<rect x="175.9" y="1194.3" width="1179.1" height="907.5" fill="none" stroke="#262626" stroke-width="1.7"/>
<g clip-path="url(#c2)" fill="none" stroke-linejoin="round">
<g stroke="#ec1c24" stroke-width="7.8" stroke-linecap="round">
<polyline points="183.0,1190.0 183.0,1215.0 172.0,1223.6"/>
<polyline points="172.0,1338.0 195.0,1338.0 203.6,1347.0"/>
<polyline points="203.5,1347.0 203.5,1402.5 170.0,1435.0"/>
<polyline points="437.0,1194.0 459.0,1216.0 459.0,1235.0 498.0,1272.0 489.0,1281.0 469.0,1281.0 460.0,1290.0 460.0,1310.0 439.0,1330.0 439.0,1368.0 448.0,1377.0 488.0,1377.0 509.0,1395.0"/>
<polyline points="504.0,1395.0 605.0,1395.0 615.0,1386.0 615.0,1310.0 635.6,1291.0 635.6,1272.0 646.4,1263.0 724.0,1339.0 763.0,1339.0 783.0,1357.0 792.0,1349.0"/>
<polyline points="750.2,1192.7 783.0,1224.8 803.6,1224.8 815.1,1236.4"/>
<polygon points="410.0,1584.0 447.5,1584.0 498.5,1631.0 498.5,1671.0 508.5,1680.0 528.5,1680.0 538.5,1689.0 538.5,1916.0 508.5,1945.0 490.0,1945.0 469.0,1964.0 451.0,1964.0 430.0,1945.0 390.0,1945.0 361.5,1916.0 361.5,1689.0 400.0,1651.0 400.0,1595.0"/>
<polygon points="803.0,1717.0 882.0,1717.0 891.0,1727.0 891.0,1764.0 909.0,1783.6 891.0,1801.0 891.0,1822.0 882.0,1831.0 803.0,1831.0 793.0,1821.0 793.0,1728.0"/>
<polygon points="1058.0,1547.6 1097.0,1547.6 1107.6,1557.0 1107.6,1594.0 1088.0,1613.0 1088.0,1632.0 1078.0,1641.0 1058.0,1623.0 1039.0,1623.0 1028.4,1614.0 1028.4,1575.0"/>
<polygon points="1195.0,1755.0 1236.0,1755.0 1254.0,1774.0 1294.0,1774.0 1304.0,1784.0 1304.0,1877.0 1293.6,1888.0 1236.0,1888.0 1195.6,1850.0 1177.0,1850.0 1166.0,1841.0 1166.0,1821.0 1187.0,1803.0 1187.0,1764.0"/>
</g>
<g stroke="#3953a4" stroke-width="7.8" stroke-linejoin="round" stroke-linecap="butt">
<polyline points="340.0,1699.0 340.0,1681.0"/>
<polyline points="339.4,1679.0 361.0,1661.0"/>
<polyline points="379.4,1640.0 379.4,1613.6"/>
<polyline points="380.0,1586.0 399.0,1564.0"/>
<polyline points="427.4,1563.6 454.4,1563.6"/>
<polyline points="475.0,1582.0 496.0,1603.0"/>
<polyline points="514.4,1620.4 519.0,1618.0 519.0,1645.0"/>
<polyline points="525.0,1659.0 536.0,1659.0 549.0,1671.0"/>
<polyline points="558.0,1695.0 558.0,1721.0"/>
<polyline points="558.0,1750.0 558.0,1777.0"/>
<polyline points="340.0,1728.0 340.0,1754.0"/>
<polyline points="340.0,1783.0 340.0,1810.0"/>
<polyline points="340.0,1839.0 340.0,1866.0"/>
<polyline points="340.0,1894.6 340.0,1921.6"/>
<polyline points="358.6,1943.0 378.0,1963.0"/>
<polyline points="405.0,1965.0 420.0,1965.0 429.0,1973.0"/>
<polyline points="452.0,1984.4 479.0,1984.4"/>
<polyline points="500.0,1965.0 517.0,1965.0 524.4,1958.0"/>
<polyline points="544.0,1938.0 558.0,1923.0 558.0,1917.0"/>
<polyline points="558.0,1861.0 558.0,1888.4"/>
<polyline points="558.0,1806.0 558.0,1833.0"/>
<polyline points="768.6,1722.8 771.0,1720.0 790.0,1699.6"/>
<polyline points="818.4,1697.0 844.4,1697.0"/>
<polyline points="872.4,1697.0 891.0,1697.0 898.4,1704.0"/>
<polyline points="912.0,1728.0 912.0,1755.0"/>
<polyline points="930.0,1775.0 939.0,1783.6 928.6,1794.0"/>
<polyline points="913.0,1816.0 913.0,1829.0 902.4,1839.6"/>
<polyline points="852.0,1851.6 879.0,1851.6"/>
<polyline points="796.0,1851.6 823.0,1851.6"/>
<polyline points="771.6,1807.6 771.6,1828.0 775.6,1832.8"/>
<polyline points="771.6,1751.6 771.6,1779.0"/>
<polyline points="1046.4,1525.6 1049.6,1527.4 1075.6,1527.4"/>
<polyline points="1104.0,1527.0 1125.6,1543.0"/>
<polyline points="1129.0,1569.6 1129.0,1597.0"/>
<polyline points="1112.0,1620.0 1109.0,1622.4 1108.4,1639.0 1105.6,1642.4"/>
<polyline points="1066.0,1658.0 1079.0,1670.0 1086.0,1664.4"/>
<polyline points="1020.0,1635.0 1031.0,1644.0 1044.0,1644.0"/>
<polyline points="1007.0,1585.0 1007.0,1612.4"/>
<polyline points="1007.0,1565.0 1027.6,1547.6"/>
<polyline points="1201.0,1734.6 1228.4,1734.6"/>
<polyline points="1254.0,1744.0 1264.0,1753.6 1277.0,1753.6"/>
<polyline points="1304.0,1757.0 1324.0,1773.0"/>
<polyline points="1325.4,1802.0 1325.4,1829.6"/>
<polyline points="1325.4,1858.0 1325.4,1885.0"/>
<polyline points="1281.0,1908.0 1302.4,1908.0 1306.0,1903.6"/>
<polyline points="1225.6,1906.8 1229.0,1908.0 1252.4,1908.0"/>
<polyline points="1186.0,1869.0 1205.0,1887.0"/>
<polyline points="1144.4,1843.0 1144.4,1850.0 1158.0,1862.0"/>
<polyline points="1144.0,1812.4 1166.4,1793.6"/>
<polyline points="1165.6,1766.0 1165.6,1755.6 1177.0,1743.0"/>
<polyline points="425.0,1210.0 438.0,1223.0 438.0,1233.0"/>
<polyline points="443.7,1275.7 457.4,1262.9"/>
<polyline points="451.4,1256.0 471.1,1272.3"/>
<polyline points="460.4,1258.6 460.4,1265.4"/>
<polyline points="418.0,1321.0 438.0,1302.0"/>
<polyline points="417.6,1342.0 417.6,1368.0"/>
<polyline points="433.0,1390.4 440.0,1397.0 458.0,1397.0"/>
<polyline points="484.0,1400.0 500.0,1415.0 507.0,1415.0"/>
<polyline points="535.0,1415.0 562.4,1415.0"/>
<polyline points="590.4,1415.0 617.0,1415.0"/>
<polyline points="637.0,1393.6 637.0,1366.0"/>
<polyline points="637.0,1338.0 637.0,1319.0 643.0,1313.0"/>
<polyline points="644.0,1292.0 656.0,1282.4 658.4,1282.4 658.4,1289.0"/>
<polyline points="668.0,1312.0 688.0,1333.0"/>
<polyline points="708.0,1352.0 715.0,1359.0 733.0,1359.0"/>
<polyline points="759.0,1363.0 780.0,1383.0"/>
<polyline points="204.4,1190.0 204.4,1223.0"/>
<polyline points="172.0,1245.0 185.0,1245.0"/>
<polyline points="172.0,1318.0 202.4,1318.0"/>
<polyline points="220.0,1340.4 224.0,1337.6 224.4,1363.6"/>
<polyline points="225.0,1392.0 225.0,1412.0 219.0,1417.5"/>
<polyline points="200.0,1437.0 183.0,1452.5 178.5,1453.5"/>
<polyline points="780.4,1193.4 792.0,1204.3 805.9,1204.3"/>
<polyline points="827.4,1220.3 843.4,1235.1"/>
</g>
<path d="M175.9 1494.5L1355 1756.8" stroke="#6abd45" stroke-width="7.8"/>
</g>
<text x="175.9" y="2154" font-size="35.7" text-anchor="middle">103.75</text>
<text x="410.6" y="2154" font-size="35.7" text-anchor="middle">103.76</text>
<text x="646.2" y="2154" font-size="35.7" text-anchor="middle">103.77</text>
<text x="881.8" y="2154" font-size="35.7" text-anchor="middle">103.78</text>
<text x="1117.5" y="2154" font-size="35.7" text-anchor="middle">103.79</text>
<text x="1355.0" y="2154" font-size="35.7" text-anchor="middle">103.8</text>
<text x="160" y="2116.2" font-size="35.9" text-anchor="end">1.2</text>
<text x="160" y="2003.5" font-size="35.9" text-anchor="end">1.205</text>
<text x="160" y="1890.8" font-size="35.9" text-anchor="end">1.21</text>
<text x="160" y="1777.2" font-size="35.9" text-anchor="end">1.215</text>
<text x="160" y="1664.2" font-size="35.9" text-anchor="end">1.22</text>
<text x="160" y="1551.0" font-size="35.9" text-anchor="end">1.225</text>
<text x="160" y="1437.0" font-size="35.9" text-anchor="end">1.23</text>
<text x="160" y="1323.7" font-size="35.9" text-anchor="end">1.235</text>
<text x="160" y="1208.7" font-size="35.9" text-anchor="end">1.24</text>
<text x="767" y="2230.7" font-size="45.9" text-anchor="middle">Longitude (degree)</text>
<text transform="translate(38.3,1646) rotate(-90)" font-size="46" text-anchor="middle">Latitude (degree)</text>
<rect x="789.2" y="1232.8" width="528.8" height="181.2" fill="#fff" stroke="#262626" stroke-width="1.7"/>
<path d="M799.5 1265.2H910" stroke="#ec1c24" stroke-width="7.8" fill="none" />
<path d="M799.5 1323.2H910" stroke="#3953a4" stroke-width="7.8" fill="none" stroke-dasharray="28.8 28"/>
<path d="M799.5 1380.8H910" stroke="#6abd45" stroke-width="7.8" fill="none" />
<text x="918" y="1280.8" font-size="43.4" style="fill:#000">Coastline</text>
<text x="918" y="1338.8" font-size="43.4" style="fill:#000">Expanded Coastline</text>
<text x="918" y="1397.2" font-size="43.4" style="fill:#000">VV Path</text>
</svg></body></html>
